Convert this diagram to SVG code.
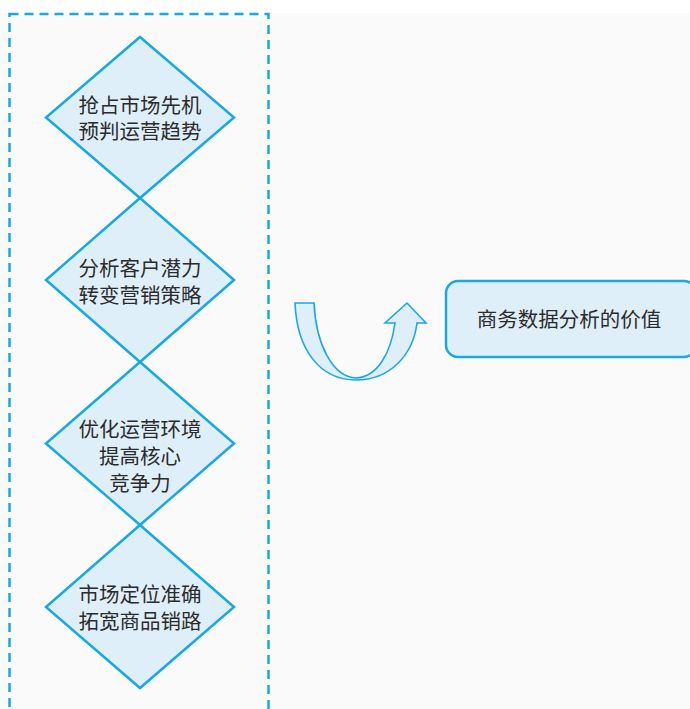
<svg xmlns="http://www.w3.org/2000/svg" width="690" height="709" viewBox="0 0 690 709">
<style>
.d{fill:#dfeff9;stroke:#19a9e0;stroke-width:2.5;stroke-linejoin:miter}
.t{font-family:"Noto Sans CJK SC","Noto Sans CJK TC",sans-serif;font-size:20.5px;fill:#2b2b2b;text-anchor:middle;dominant-baseline:central}
</style>
<rect x="0" y="0" width="690" height="709" fill="#ffffff"/>
<rect x="0" y="13" width="690" height="696" fill="#fafafa"/>
<rect id="frame" x="9.5" y="14" width="259" height="710" fill="none" stroke="#19a9e0" stroke-width="2.5" stroke-dasharray="9,6"/>
<g id="n1"><polygon class="d" points="140,37 234,117.5 140,198 46,117.5"/>
<text class="t" x="140" y="103.5">抢占市场先机</text><text class="t" x="140" y="130">预判运营趋势</text></g>
<g id="n2"><polygon class="d" points="140,198 234,280 140,362 46,280"/>
<text class="t" x="140" y="267">分析客户潜力</text><text class="t" x="140" y="294">转变营销策略</text></g>
<g id="n3"><polygon class="d" points="140,362 234,443.5 140,525 46,443.5"/>
<text class="t" x="140" y="428">优化运营环境</text><text class="t" x="140" y="455">提高核心</text><text class="t" x="140" y="482">竞争力</text></g>
<g id="n4"><polygon class="d" points="140,525 234,607 140,688 46,607"/>
<text class="t" x="140" y="593">市场定位准确</text><text class="t" x="140" y="620">拓宽商品销路</text></g>
<g id="connectors">
<path d="M295,303 C297,350 320,380 356,380 C390,380 413,355 417,323 L426,323 L407,303 L385,323 L395,323 C391,352 378,377 356,378 C333,377 316,345 314,303 Z" fill="#dfeff9" stroke="#19a9e0" stroke-width="1.6" stroke-linejoin="miter"/>
</g>
<g id="value"><rect x="446" y="281" width="250" height="76" rx="12" fill="#dfeff9" stroke="#19a9e0" stroke-width="2.5"/>
<text class="t" x="569" y="318">商务数据分析的价值</text></g>
</svg>
